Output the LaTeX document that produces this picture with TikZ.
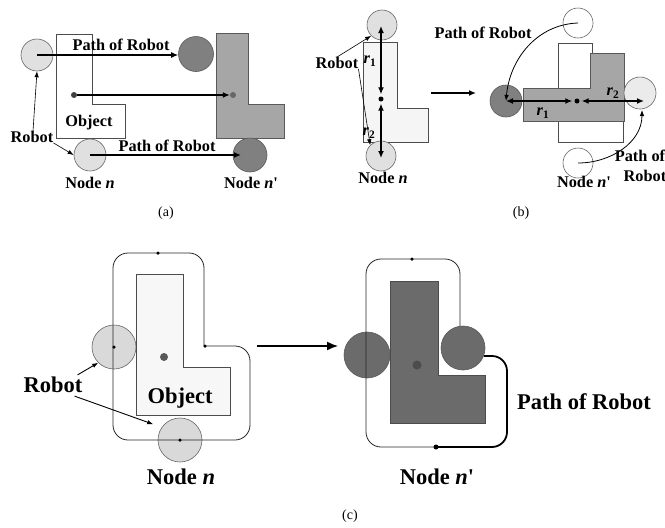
\documentclass[tikz,border=0pt]{standalone}
\usepackage{fontspec}
\setmainfont{Liberation Serif}
\newfontfamily\plainlib{Liberation Serif}
\newcommand{\sq}{{\plainlib\bfseries '}}
\usetikzlibrary{arrows.meta}
\begin{document}
\begin{tikzpicture}[x=1pt,y=-1pt,
  lbl/.style={font=\fontsize{16.3}{18}\selectfont\bfseries, inner sep=0pt},
  biglbl/.style={font=\fontsize{22.5}{25}\selectfont\bfseries, inner sep=0pt},
  capt/.style={font=\fontsize{14}{16}\selectfont, inner sep=0pt},
  lightbot/.style={circle, draw=black!60, fill=black!12, inner sep=0pt, line width=0.6pt},
  whitebot/.style={circle, draw=black!60, fill=white, inner sep=0pt, line width=0.6pt},
  darkbot/.style={circle, draw=black!65, fill=black!50, inner sep=0pt, line width=0.6pt},
  objwhite/.style={draw=black!70, fill=white, line width=0.7pt},
  objgray/.style={draw=black!65, fill=black!35, line width=0.7pt},
  objdark/.style={draw=black!70, fill=black!58, line width=0.7pt},
  dotmark/.style={circle, fill=black!75, inner sep=0pt, minimum size=6pt},
  smalldot/.style={circle, fill=black, inner sep=0pt, minimum size=3.5pt},
  arr/.style={-{Latex[length=7pt,width=6pt]}, line width=1.3pt},
  dblarr/.style={{Latex[length=7pt,width=6pt]}-{Latex[length=7pt,width=6pt]}, line width=1.3pt},
  thinarr/.style={-{Latex[length=6pt,width=4.5pt]}, line width=0.6pt},
  bigarr/.style={-{Latex[length=11pt,width=9pt]}, line width=1.5pt},
  route/.style={draw=black!85, line width=0.8pt},
  thickroute/.style={draw=black, line width=1.8pt}
]
\useasboundingbox (0,0) rectangle (665,528);
\fill[white] (0,0) rectangle (665,528);

% ---------------- (a) ----------------
\draw[objwhite] (56,34) -- (92,34) -- (92,104) -- (125,104) -- (125,138) -- (56,138) -- cycle;
\draw[objgray] (216,33) -- (248,33) -- (248,104) -- (284,104) -- (284,138) -- (216,138) -- cycle;
\node[lightbot, minimum size=32pt] (ra1) at (37,55) {};
\node[lightbot, minimum size=32pt] (ra2) at (90,155) {};
\node[darkbot, minimum size=35pt] (da1) at (196,54) {};
\node[darkbot, minimum size=34pt] (da2) at (250,155) {};
\node[dotmark] (ca) at (74,95) {};
\node[dotmark, fill=black!60] (cap) at (233,95) {};
\draw[arr] (ra1.center) -- (da1.west |- ra1.center);
\draw[arr] (ca) -- (cap);
\coordinate (da2tip) at (241,155);
\draw[arr] (ra2.center) -- (da2tip);
\node[lbl] (pa1) at (121,45) {Path of Robot};
\node[lbl] (pa2) at (167,146) {Path of Robot};
\node[lbl] (obja) at (89,123) {Object};
\node[lbl] (robota) at (32,137) {Robot};
\draw[thinarr] (robota.north) ++(1,0) coordinate (rs1) (rs1) -- (ra1.south);
\draw[thinarr] (robota.south east) -- (ra2.west);
\node[lbl] (na) at (90,183) {Node \textit{n}};
\node[lbl] (nap) at (251,183) {Node \textit{n}\sq};
\node[capt] (capa) at (166,213) {(a)};

% ---------------- (b) left ----------------
\draw[objwhite, fill=black!4] (363,42) -- (397,42) -- (397,108) -- (428,108) -- (428,142) -- (363,142) -- cycle;
\node[lightbot, minimum size=30pt] (tb) at (382,25) {};
\node[lightbot, minimum size=30pt] (bb) at (381,156) {};
\node[smalldot, minimum size=5pt] (cb) at (381,99) {};
\coordinate (tbt) at (381,26);
\coordinate (bbt) at (381,158);
\draw[dblarr, shorten <=2pt] (cb) -- (tbt);
\draw[dblarr, shorten <=2pt] (cb) -- (bbt);
\node[lbl] (r1b) at (370,61) {\textit{r}\textsubscript{1}};
\node[lbl] (r2b) at (369,133) {\textit{r}\textsubscript{2}};
\node[lbl] (robotb) at (337,63) {Robot};
\draw[thinarr] (robotb.north) -- (tb.south west);
\draw[thinarr] (robotb.south east) -- (bb.north west);
\node[lbl] (nb) at (383,178) {Node \textit{n}};
\coordinate (bas) at (431,93);
\coordinate (bae) at (476,93);
\draw[arr] (bas) -- (bae);

% ---------------- (b) right ----------------
\draw[objwhite] (558,43) -- (592,43) -- (592,108) -- (623,108) -- (623,142) -- (558,142) -- cycle;
\draw[objgray] (523,88) -- (590,88) -- (590,53) -- (624,53) -- (624,121) -- (523,121) -- cycle;
\node[whitebot, minimum size=30pt] (tw) at (578,23) {};
\node[whitebot, minimum size=30pt] (bw) at (578,163) {};
\node[darkbot, minimum size=32pt] (ld) at (506,101) {};
\node[lightbot, minimum size=32pt, fill=black!8] (rl) at (640,93) {};
\node[smalldot, minimum size=5pt] (cr) at (577,101) {};
\draw[dblarr, shorten <=2pt] (cr) -- (ld.center);
\coordinate (rlt) at (644,101);
\draw[dblarr, shorten <=2pt] (cr) -- (rlt);
\node[lbl] (r1r) at (543,113) {\textit{r}\textsubscript{1}};
\node[lbl] (r2r) at (613,93) {\textit{r}\textsubscript{2}};
\draw[thinarr, line width=0.8pt] (tw.center) to[out=182, in=85] (ld.center);
\coordinate (rltip) at (642,110);
\draw[thinarr, line width=0.8pt] (bw.center) to[out=0, in=-90] (rltip);
\node[lbl] (pb1) at (483,33) {Path of Robot};
\node[lbl] (pb2) at (640,156) {Path of};
\node[lbl] (pb3) at (645,176) {Robot};
\node[lbl] (nbp) at (584,182) {Node \textit{n}\sq};
\node[capt] (capb) at (521,213) {(b)};

% ---------------- (c) left ----------------
\node[lightbot, minimum size=44pt, fill=black!15] (lc1) at (114,347) {};
\node[lightbot, minimum size=44pt, fill=black!15] (lc2) at (180,440) {};
\draw[route, rounded corners=15pt] (204,346) -- (250,346) -- (250,440) -- (113,440) -- (113,253) -- (204,253) -- (204,346);
\draw[objwhite, fill=black!3] (136,274) -- (183,274) -- (183,367) -- (230,367) -- (230,415) -- (136,415) -- cycle;
\node[dotmark, minimum size=8pt, fill=black!65] (cc) at (164,357) {};
\node[smalldot] (d1) at (158,253) {};
\node[smalldot] (d2) at (205,346) {};
\node[smalldot] at (lc1.center) {};
\node[smalldot] at (lc2.center) {};
\node[biglbl] (objc) at (180,398) {Object};
\node[biglbl] (robotc) at (53,385) {Robot};
\draw[thinarr, line width=0.9pt] (robotc.north east) ++(-5,-2) coordinate (rc1) (rc1) -- (lc1.south west);
\draw[thinarr, line width=0.9pt] (robotc.south east) ++(-8,3) coordinate (rc2) (rc2) -- ([xshift=-11pt]lc2.north west);
\node[biglbl] (nc) at (181,477) {Node \textit{n}};
\coordinate (cas) at (257,346);
\coordinate (cae) at (338,346);
\draw[bigarr] (cas) -- (cae);

% ---------------- (c) right ----------------
\node[darkbot, minimum size=46pt, fill=black!58] (lcd) at (367,355) {};
\draw[route, rounded corners=15pt] (436,447) -- (366,447) -- (366,259) -- (460,259) -- (460,350);
\draw[thickroute, rounded corners=15pt] (436,447) -- (507,447) -- (507,356) -- (484,356);
\draw[objdark] (390,281) -- (438,281) -- (438,375) -- (485,375) -- (485,423) -- (390,423) -- cycle;
\node[darkbot, minimum size=44pt, fill=black!58] (rcd) at (463,348) {};
\node[dotmark, minimum size=9pt, fill=black!70] (ccd) at (417,365) {};
\node[smalldot] (d3) at (412,259) {};
\node[smalldot, minimum size=5pt] (d4) at (436,447) {};
\node[biglbl] (pc) at (584,402) {Path of Robot};
\node[biglbl] (ncp) at (437,477) {Node \textit{n}\sq};
\node[capt] (capc) at (350,516) {(c)};
\end{tikzpicture}
\end{document}
